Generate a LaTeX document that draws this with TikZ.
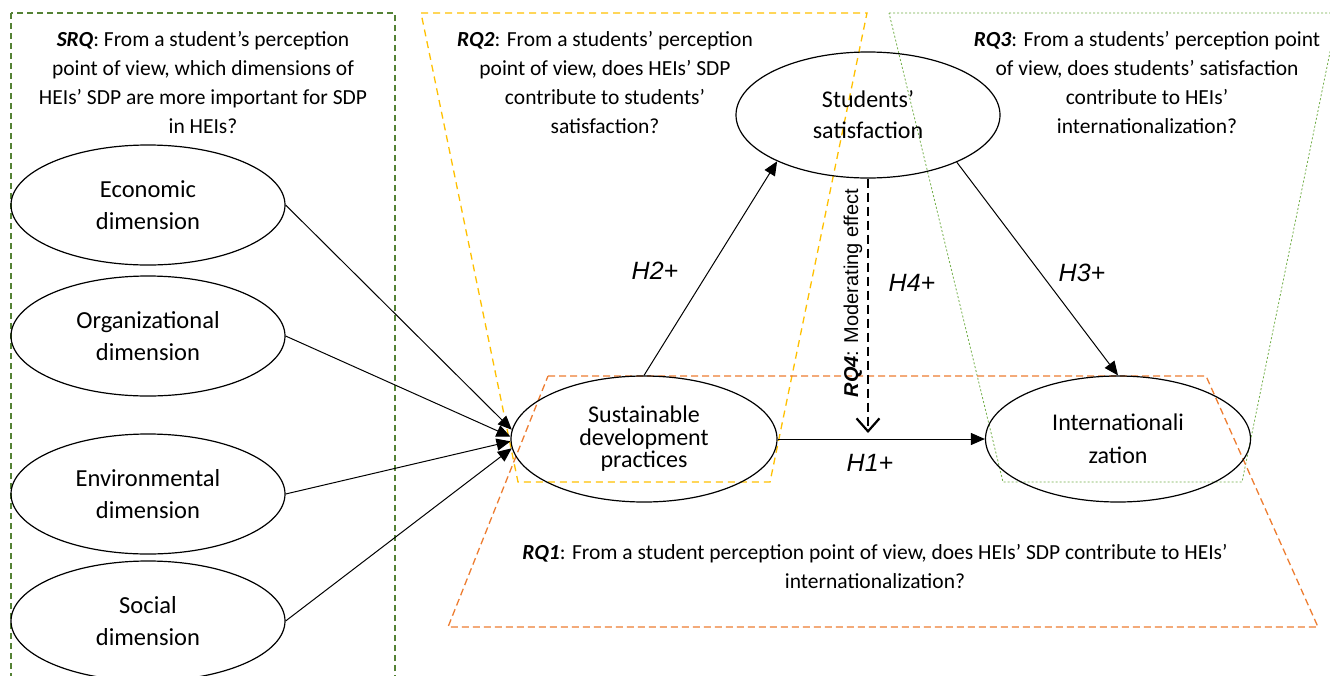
\documentclass[tikz,border=0pt]{standalone}
\usepackage{fontspec}
\setmainfont{Carlito}
\newfontfamily\arialf{Liberation Sans}
\usetikzlibrary{arrows.meta,shapes.geometric}
\definecolor{srqgreen}{RGB}{84,130,53}
\definecolor{rqyellow}{RGB}{255,192,0}
\definecolor{rqgreen}{RGB}{112,173,71}
\definecolor{rqorange}{RGB}{237,125,49}
\begin{document}
\begin{tikzpicture}[x=1pt,y=-1pt,
  ell/.style={draw, ellipse, line width=1.2pt, minimum width=274pt, minimum height=120pt, inner sep=0pt, align=center, font=\fontsize{24.5}{32}\selectfont},
  qtext/.style={align=center, font=\fontsize{21.5}{29}\selectfont, inner sep=0pt},
  hlab/.style={font=\arialf\itshape\fontsize{25}{30}\selectfont, inner sep=0pt},
  arr/.style={line width=1pt, -{Triangle[length=14pt,width=12pt]}},
]
\useasboundingbox (0,0) rectangle (1330,675);
\clip (0,0) rectangle (1330,675);

% frames
\draw[srqgreen, line width=1.2pt, dash pattern=on 6pt off 4pt] (11,13) rectangle (395,700);
\draw[rqyellow, line width=1.3pt, dash pattern=on 7pt off 5pt] (421,13) -- (867,13) -- (770,482) -- (518,482) -- cycle;
\draw[rqgreen, line width=0.8pt, dash pattern=on 2pt off 2pt] (889,13) -- (1338,13) -- (1242,482) -- (1003,482) -- cycle;
\draw[rqorange, line width=1.3pt, dash pattern=on 7pt off 4pt] (548,376) -- (1206,376) -- (1318,627) -- (448,627) -- cycle;

% question texts
\node[qtext] (srq) at (203,82) {\textbf{\textit{SRQ}}: From a student’s perception\\point  of view, which dimensions of\\HEIs’ SDP are more important for SDP\\in HEIs?};
\node[qtext] (rq2) at (605,82) {\textbf{\textit{RQ2}}: From a students’ perception\\point of view, does HEIs’ SDP\\contribute to students’\\satisfaction?};
\node[qtext] (rq3) at (1147,82) {\textbf{\textit{RQ3}}: From a students’ perception point\\of view, does students’ satisfaction\\contribute to HEIs’\\internationalization?};
\node[qtext] (rq1) at (875,566) {\textbf{\textit{RQ1}}:  From a student perception point of view, does HEIs’ SDP contribute to HEIs’\\internationalization?};

% ellipses
\node[ell] (eco) at (148,205) {Economic\\dimension};
\node[ell] (org) at (148,336) {Organizational\\dimension};
\node[ell] (env) at (148,494) {Environmental\\dimension};
\node[ell] (soc) at (148,621) {Social\\dimension};
\node[ell, minimum width=266pt, minimum height=126pt, font=\fontsize{24}{22.5}\selectfont] (sdp) at (644,439) {Sustainable\\development\\practices};
\node[ell, minimum width=264pt, minimum height=126pt, font=\fontsize{24}{31}\selectfont] (sat) at (868,115) {Students’\\satisfaction};
\node[ell, minimum width=265pt, minimum height=126pt, font=\fontsize{24}{33}\selectfont] (int) at (1118,439) {Internationali\\zation};

% connectors
\draw[arr] (eco.east) -- (sdp.176);
\draw[arr] (org.east) -- (sdp.179);
\draw[arr] (env.east) -- (sdp.181);
\draw[arr] (soc.east) -- (sdp.184);
\draw[arr] (sdp.north) -- (sat.207);
\draw[arr] (sat.-28) -- (int.north);
\draw[arr] (sdp.east) -- (int.west);
\coordinate (m4) at (868,433);
\draw[line width=2.2pt, dash pattern=on 9pt off 5pt, -{Straight Barb[length=13pt,width=23pt]}] (sat.south) -- (m4);

% labels
\node[hlab] (h2) at (655,271) {H2+};
\node[hlab] (h3) at (1082,273) {H3+};
\node[hlab] (h4) at (912,283) {H4+};
\node[hlab] (h1) at (870,463) {H1+};
\node[rotate=90, font=\arialf\fontsize{20}{24}\selectfont, inner sep=0pt] (rq4) at (853,293) {\textbf{\textit{RQ4}}: Moderating effect};
\end{tikzpicture}
\end{document}
